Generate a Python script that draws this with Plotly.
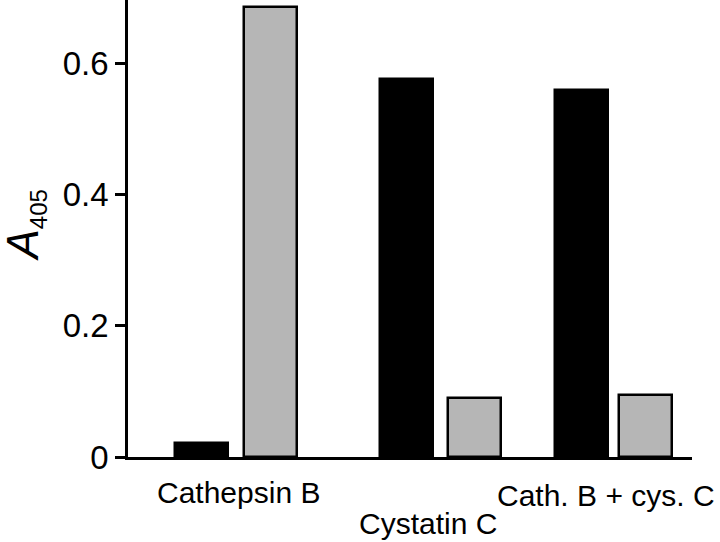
import plotly.graph_objects as go

# ---- data ----
categories = ["Cathepsin B", "Cystatin C", "Cath. B + cys. C"]
black_values = [0.021, 0.576, 0.559]
gray_values = [0.685, 0.090, 0.094]
y_tick_vals = [0, 0.2, 0.4, 0.6]
y_tick_text = ["0", "0.2", "0.4", "0.6"]
y_title = "<i>A</i><sub><span style='font-size:24px'>405</span></sub>"

# ---- layout positions (axis units along x, 0..564) ----
black_pos = [73.5, 278, 453]
gray_pos = [142, 346, 517.5]
label_pos = [110, 300, 478]
label_shift = [-35, -66, -38]
bar_width = 53

FONT = "Liberation Sans, Arial, sans-serif"

fig = go.Figure()
fig.add_trace(go.Bar(
    x=black_pos, y=black_values, width=bar_width,
    marker=dict(color="black", line=dict(color="black", width=2.5)),
    name="black", showlegend=False,
))
fig.add_trace(go.Bar(
    x=gray_pos, y=gray_values, width=bar_width,
    marker=dict(color="#b6b6b6", line=dict(color="black", width=2.5)),
    name="gray", showlegend=False,
))

for cat, xp, ys in zip(categories, label_pos, label_shift):
    fig.add_annotation(
        x=xp, y=0, xref="x", yref="y", text=cat, showarrow=False,
        yanchor="middle", xanchor="center", yshift=ys,
        font=dict(family=FONT, size=30, color="black"),
    )

# y-axis title as rotated annotation
fig.add_annotation(
    x=0, y=0.5, xref="paper", yref="paper", text=y_title, showarrow=False,
    textangle=-90, xanchor="center", yanchor="middle",
    xshift=-104, yshift=3,
    font=dict(family=FONT, size=44, color="black"),
)

fig.update_layout(
    width=720, height=542,
    margin=dict(l=128, r=28, t=0, b=85),
    paper_bgcolor="white", plot_bgcolor="white",
    font=dict(family=FONT, color="black"),
    bargap=0,
)
fig.update_xaxes(
    range=[0, 564], showgrid=False, zeroline=False, automargin=False,
    showline=True, linecolor="black", linewidth=2.5,
    showticklabels=False, ticks="",
)
fig.update_yaxes(
    range=[0, 0.696], showgrid=False, zeroline=False, automargin=False,
    showline=True, linecolor="black", linewidth=2.5,
    tickvals=y_tick_vals, ticktext=y_tick_text,
    ticks="outside", ticklen=10, tickwidth=2.5, tickcolor="black",
    tickfont=dict(family=FONT, size=33, color="black"),
)

fig.write_html(
    "out.html",
    config={"displayModeBar": False},
    post_script="document.body.style.margin='0';document.body.style.overflow='hidden';",
)
